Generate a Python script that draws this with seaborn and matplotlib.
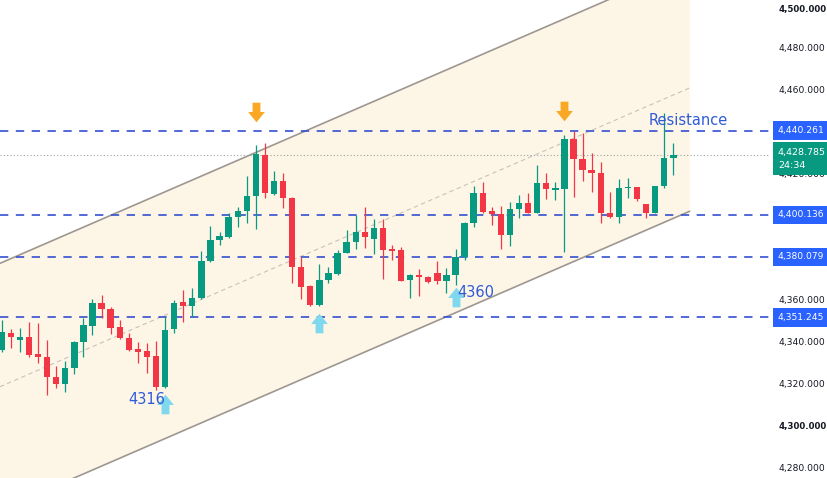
import numpy as np
import pandas as pd
import matplotlib
matplotlib.use("Agg")
import matplotlib.pyplot as plt
from matplotlib.path import Path
import seaborn as sns

# ── OHLC, one value per candle, left to right ──
opens = [4335.7, 4344.0, 4340.5, 4341.8, 4333.7, 4332.5, 4323.0, 4319.5, 4327.0, 4339.7,
         4347.3, 4358.0, 4355.2, 4346.8, 4341.3, 4336.2, 4335.4, 4332.9, 4318.2, 4345.6,
         4358.4, 4356.7, 4360.3, 4378.2, 4388.1, 4389.5, 4399.2, 4401.9, 4408.9, 4428.6,
         4410.0, 4416.3, 4408.2, 4375.1, 4366.2, 4357.1, 4369.0, 4371.9, 4382.0, 4387.3,
         4392.0, 4388.6, 4393.7, 4383.8, 4383.3, 4369.0, 4371.4, 4370.6, 4372.2, 4368.8,
         4371.4, 4380.1, 4396.0, 4410.6, 4402.0, 4400.5, 4390.5, 4402.9, 4405.6, 4401.1,
         4415.4, 4412.1, 4412.2, 4436.0, 4426.5, 4421.4, 4420.1, 4401.1, 4398.9, 4412.7,
         4413.2, 4405.2, 4401.1, 4413.8, 4427.0]
highs = [4350.0, 4345.6, 4346.3, 4349.2, 4348.4, 4340.5, 4328.1, 4330.5, 4339.9, 4351.1,
         4360.0, 4361.9, 4356.2, 4350.0, 4344.0, 4339.7, 4338.9, 4340.1, 4351.6, 4359.5,
         4364.3, 4365.1, 4383.0, 4394.8, 4391.8, 4400.9, 4403.6, 4418.6, 4433.3, 4434.1,
         4421.1, 4419.9, 4408.6, 4380.1, 4366.7, 4376.7, 4375.4, 4383.3, 4392.9, 4400.0,
         4403.7, 4398.0, 4398.0, 4385.7, 4384.9, 4371.7, 4374.1, 4370.9, 4378.1, 4374.6,
         4383.7, 4396.8, 4413.8, 4415.9, 4404.0, 4404.3, 4406.3, 4409.5, 4410.3, 4423.8,
         4420.1, 4415.9, 4438.1, 4440.1, 4438.9, 4429.4, 4425.4, 4411.1, 4417.0, 4417.5,
         4413.5, 4405.5, 4414.0, 4448.4, 4434.1]
lows = [4334.8, 4336.5, 4334.9, 4332.5, 4329.4, 4314.3, 4317.5, 4315.9, 4324.1, 4332.5,
        4342.9, 4350.8, 4343.2, 4340.8, 4335.4, 4329.7, 4324.6, 4316.5, 4317.8, 4343.7,
        4349.2, 4351.6, 4359.8, 4377.8, 4385.7, 4388.9, 4394.4, 4396.3, 4393.2, 4407.9,
        4409.5, 4403.2, 4367.5, 4359.9, 4356.7, 4356.9, 4367.8, 4371.5, 4381.8, 4383.7,
        4384.1, 4381.4, 4369.4, 4378.6, 4368.5, 4360.3, 4361.4, 4367.5, 4367.1, 4362.7,
        4366.7, 4378.6, 4394.1, 4401.1, 4395.2, 4383.7, 4385.2, 4398.4, 4400.8, 4400.9,
        4407.5, 4407.1, 4382.5, 4408.4, 4416.2, 4411.1, 4396.0, 4398.7, 4396.0, 4407.9,
        4406.7, 4398.4, 4400.9, 4412.7, 4419.0]
closes = [4344.4, 4342.0, 4341.8, 4333.3, 4332.2, 4323.0, 4319.5, 4327.0, 4339.7, 4347.6,
          4358.0, 4355.2, 4346.3, 4341.3, 4335.7, 4334.9, 4332.5, 4318.2, 4345.2, 4358.2,
          4356.7, 4360.3, 4378.2, 4388.1, 4390.0, 4399.2, 4402.0, 4409.0, 4429.0, 4410.3,
          4416.3, 4408.0, 4375.1, 4365.9, 4357.1, 4369.0, 4372.2, 4382.1, 4387.3, 4392.0,
          4389.4, 4393.7, 4383.3, 4382.9, 4368.7, 4371.4, 4370.3, 4368.2, 4368.7, 4371.4,
          4380.1, 4396.0, 4410.6, 4401.6, 4400.5, 4390.5, 4402.9, 4405.6, 4401.1, 4415.4,
          4412.2, 4412.6, 4436.0, 4426.5, 4421.4, 4420.1, 4401.1, 4398.9, 4412.7, 4413.5,
          4407.6, 4401.1, 4413.8, 4427.0, 4428.785]

# ── drawings on the chart ──
channel_idx = [-0.2, 75.8]
channel_upper = [4377.0, 4519.3]
channel_lower = [4259.5, 4401.8]

levels = [4440.261, 4400.136, 4380.079, 4351.245]
last_price = 4428.785
countdown = "24:34"

price_ticks = [4280, 4300, 4320, 4340, 4360, 4380, 4400, 4420, 4440, 4460, 4480, 4500]
bold_ticks = [4300, 4500]

top_arrow_idx = [28, 62]
top_arrow_price = [4449.0, 4449.5]
bottom_arrow_idx = [18, 35, 50]
bottom_arrow_price = [4310.0, 4348.6, 4361.0]

notes = ["4316", "4360", "Resistance"]
note_idx = [16.0, 52.2, 75.6]
note_price = [4312.0, 4362.9, 4444.8]

GREEN = "#089981"
RED = "#f23645"
BLUE = "#2962ff"
LEVEL_BLUE = "#3450d0"

sns.set_theme(style="white")
plt.rcParams["font.family"] = ["DejaVu Sans"]

df = pd.DataFrame({"open": opens, "high": highs, "low": lows, "close": closes})
df["idx"] = np.arange(len(df))
df["up"] = df["close"] >= df["open"]
df["color"] = np.where(df["up"], GREEN, RED)

fig = plt.figure(figsize=(8.28, 4.78), dpi=100)
ax = fig.add_axes([0, 0, 770 / 828, 1])

# channel
ax.fill_between(channel_idx, channel_lower, channel_upper, color="#fdf5e6", lw=0, zorder=0)
chan = pd.DataFrame({"idx": channel_idx * 2,
                     "price": channel_upper + channel_lower,
                     "side": ["upper"] * 2 + ["lower"] * 2})
sns.lineplot(data=chan, x="idx", y="price", units="side", estimator=None,
             color="#9e9791", lw=1.2, ax=ax, zorder=1)
mid = [(u + l) / 2 for u, l in zip(channel_upper, channel_lower)]
ax.plot(channel_idx, mid, color="#c9c2ba", lw=0.8, ls=(0, (4, 3)), zorder=1)

# horizontal levels + last price line
for lv in levels:
    ax.axhline(lv, color=LEVEL_BLUE, lw=1.2, ls=(0, (5, 4.5)), zorder=2)
ax.axhline(last_price, color="#9aa5a2", lw=0.8, ls=(0, (1, 2)), zorder=2)

# candles
ax.vlines(df["idx"], df["low"], df["high"], colors=df["color"], lw=0.9, zorder=3)
body = np.maximum((df["close"] - df["open"]).abs(), 0.6)
ax.bar(df["idx"], body, bottom=np.minimum(df["open"], df["close"]),
       width=0.7, color=df["color"], lw=0, zorder=4)

# arrow markers
shaft, head = 0.4, 0.85
down_verts = [(-shaft, 1.0), (shaft, 1.0), (shaft, 0.05), (head, 0.05), (0.0, -1.0),
              (-head, 0.05), (-shaft, 0.05), (-shaft, 1.0)]
codes = [Path.MOVETO] + [Path.LINETO] * 6 + [Path.CLOSEPOLY]
down_arrow = Path(down_verts, codes)
up_arrow = Path([(x, -y) for x, y in down_verts], codes)
sns.scatterplot(x=top_arrow_idx, y=top_arrow_price, marker=down_arrow, s=200,
                color="#f9a825", linewidth=0, ax=ax, zorder=5)
sns.scatterplot(x=bottom_arrow_idx, y=bottom_arrow_price, marker=up_arrow, s=200,
                color="#80d8ee", linewidth=0, ax=ax, zorder=5)

for txt, xi, yp in zip(notes, note_idx, note_price):
    ax.text(xi, yp, txt, color="#2f5bd8", fontsize=10.5, ha="center", va="center", zorder=6)

# axes
ax.set_xlim(-0.19, 84.65)
ax.set_ylim(4274.8, 4502.4)
ax.set_xticks([])
ax.set_xlabel("")
ax.set_ylabel("")
ax.yaxis.tick_right()
ax.set_yticks(price_ticks)
ax.set_yticklabels([f"{p:,.3f}" for p in price_ticks])
ax.tick_params(axis="y", length=0, pad=6, labelsize=6.6, labelcolor="#131722")
for lab, p in zip(ax.get_yticklabels(), price_ticks):
    if p in bold_ticks:
        lab.set_fontweight("bold")
        lab.set_fontsize(6.2)
    if p == max(price_ticks):
        lab.set_va("top")
for s in ax.spines.values():
    s.set_visible(False)

# price labels on the scale
for lv in levels:
    ax.annotate(f"{lv:,.3f}", xy=(1, lv), xycoords=ax.get_yaxis_transform(),
                xytext=(8, 0), textcoords="offset pixels", ha="left", va="center",
                fontsize=6.6, color="white", annotation_clip=False, zorder=7,
                bbox=dict(boxstyle="square,pad=0.5", fc=BLUE, ec="none"))
ax.annotate(f"{last_price:,.3f}\n{countdown}", xy=(1, last_price),
            xycoords=ax.get_yaxis_transform(), xytext=(8, 7), textcoords="offset pixels",
            ha="left", va="top", fontsize=6.8, color="white", linespacing=1.6,
            annotation_clip=False, zorder=7,
            bbox=dict(boxstyle="square,pad=0.55", fc=GREEN, ec="none"))

fig.savefig("out.png", dpi=100)
